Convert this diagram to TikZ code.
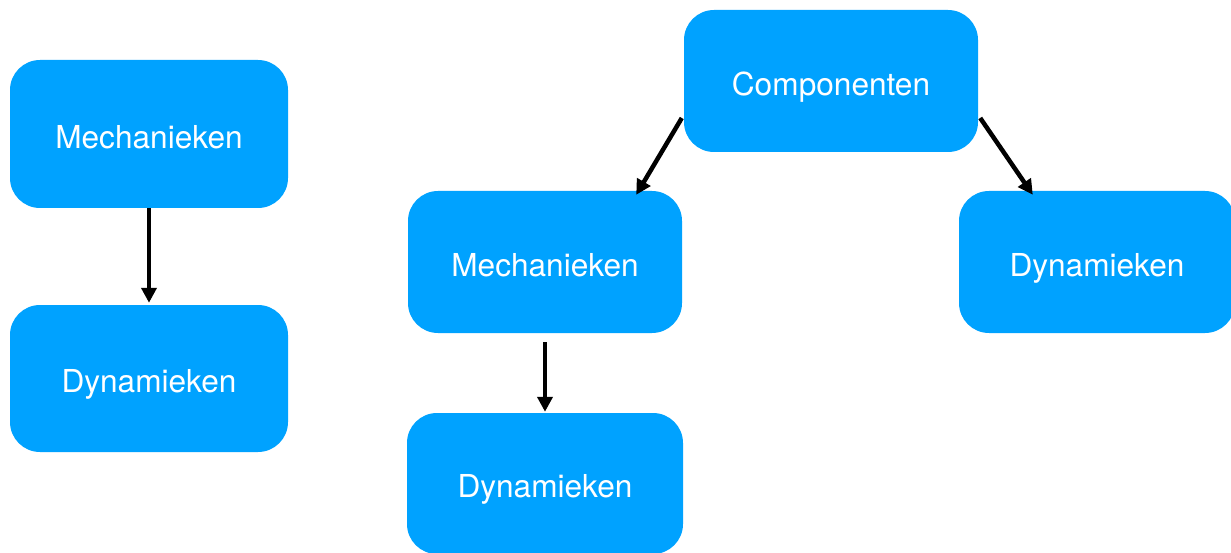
\documentclass[tikz,border=0pt]{standalone}
\usepackage{fontspec}
\setmainfont{TeX Gyre Heros}
\usetikzlibrary{arrows.meta}
\definecolor{boxblue}{RGB}{0,162,255}
\begin{document}
\begin{tikzpicture}[x=1pt,y=-1pt,
  box/.style={fill=boxblue, draw=none, rounded corners=30pt, text=white,
    font=\fontsize{31.6}{36}\selectfont, inner sep=0pt, text height=30pt, text depth=1.4pt},
  conn/.style={line width=4.5pt, -{Triangle[length=15pt,width=15pt]}}]
\useasboundingbox (0,0) rectangle (1231,553);
\node[box, minimum width=278pt, minimum height=148pt] (lm) at (149,134) {Mechanieken};
\node[box, minimum width=278pt, minimum height=147pt] (ld) at (149,378.5) {Dynamieken};
\node[box, minimum width=294pt, minimum height=142pt] (comp) at (831,81) {Componenten};
\node[box, minimum width=274pt, minimum height=142pt] (mm) at (545,262) {Mechanieken};
\node[box, minimum width=276pt, minimum height=141pt] (md) at (545,483.5) {Dynamieken};
\node[box, minimum width=276pt, minimum height=142pt] (rd) at (1097,262) {Dynamieken};
\draw[conn] (lm.south) -- ([yshift=2pt]ld.north);
\draw[conn] ([yshift=-9pt]mm.south) -- ([yshift=1pt]md.north);
\draw[conn] ([xshift=-2pt,yshift=-37pt]comp.west) -- ([xshift=-46pt,yshift=-4pt]mm.north east);
\draw[conn] ([xshift=2pt,yshift=-37pt]comp.east) -- ([xshift=74pt,yshift=-4pt]rd.north west);
\end{tikzpicture}
\end{document}
